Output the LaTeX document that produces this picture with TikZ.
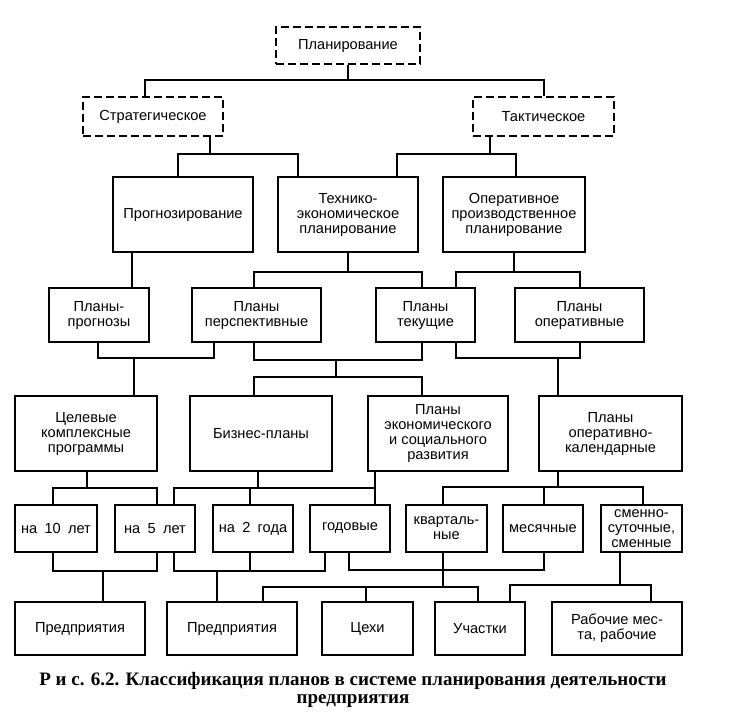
\documentclass[tikz,border=0pt]{standalone}
\usepackage{fontspec}
\setmainfont{Liberation Sans}
\newfontfamily\capfont{Liberation Serif}
\begin{document}
\begin{tikzpicture}[x=1pt,y=-1pt,
  box/.style={draw, line width=1.4pt, rectangle, align=center, inner sep=1pt, font=\fontsize{14.6}{15}\selectfont},
  dbox/.style={box, dash pattern=on 8pt off 4pt},
  link/.style={line width=1.4pt},
  captxt/.style={align=center, font=\capfont\bfseries\fontsize{19}{18}\selectfont},
]
\useasboundingbox (0,0) rectangle (733,716);
\fill[white] (0,0) rectangle (733,716);

% row 0 / 1 (dashed)
\node[dbox, minimum width=144pt, minimum height=37pt] (plan) at (348,45.5) {Планирование};
\node[dbox, minimum width=140pt, minimum height=39pt] (strat) at (153,116.5) {Стратегическое};
\node[dbox, minimum width=141pt, minimum height=39pt] (takt) at (543.5,116.5) {Тактическое};

% row 1b
\node[box, minimum width=140pt, minimum height=75pt] (prog) at (183,214.5) {Прогнозирование};
\node[box, minimum width=140pt, minimum height=75pt] (tech) at (348,214.5) {Технико-\\экономическое\\планирование};
\node[box, minimum width=142pt, minimum height=75pt] (oper) at (514,214.5) {Оперативное\\производственное\\планирование};

% row 2
\node[box, minimum width=100pt, minimum height=54pt] (pp) at (99,315) {Планы-\\прогнозы};
\node[box, minimum width=129pt, minimum height=54pt] (ppersp) at (256.5,315) {Планы\\перспективные};
\node[box, minimum width=99pt, minimum height=54pt] (ptek) at (425.5,315) {Планы\\текущие};
\node[box, minimum width=129pt, minimum height=54pt] (poper) at (579.5,315) {Планы\\оперативные};

% row 3
\node[box, minimum width=142pt, minimum height=75pt] (cel) at (86,433.5) {Целевые\\комплексные\\программы};
\node[box, minimum width=142pt, minimum height=75pt] (biz) at (261,433.5) {Бизнес-планы};
\node[box, minimum width=140pt, minimum height=75pt] (pek) at (438,433.5) {Планы\\экономического\\и социального\\развития};
\node[box, minimum width=143pt, minimum height=75pt] (pok) at (610.5,433.5) {Планы\\оперативно-\\календарные};

% row 4
\node[box, minimum width=82pt, minimum height=47pt] (n10) at (56,528.5) {на\enspace 10\enspace лет};
\node[box, minimum width=80pt, minimum height=47pt] (n5) at (155,528.5) {на\enspace 5\enspace лет};
\node[box, minimum width=80pt, minimum height=47pt] (n2) at (253,528.5) {на\enspace 2\enspace года};
\node[box, minimum width=80pt, minimum height=47pt] (god) at (350,528.5) {годовые};
\node[box, minimum width=81pt, minimum height=47pt] (kv) at (446.5,528.5) {кварталь-\\ные};
\node[box, minimum width=80pt, minimum height=47pt] (mes) at (543,528.5) {месячные};
\node[box, minimum width=81pt, minimum height=47pt] (smen) at (641.5,528.5) {сменно-\\суточные,\\сменные};

% row 5
\node[box, minimum width=130pt, minimum height=53pt] (pr1) at (80,628.5) {Предприятия};
\node[box, minimum width=130pt, minimum height=53pt] (pr2) at (232,628.5) {Предприятия};
\node[box, minimum width=91pt, minimum height=53pt] (cex) at (367.5,628.5) {Цехи};
\node[box, minimum width=90pt, minimum height=53pt] (uch) at (480,628.5) {Участки};
\node[box, minimum width=130pt, minimum height=53pt] (rab) at (617,628.5) {Рабочие мес-\\та, рабочие};

% caption
\node[captxt] (cap) at (353,690) {Р и с. 6.2. Классификация планов в системе планирования деятельности\\предприятия};

% junction coordinates
\coordinate (b0l) at (145,80); \coordinate (b0r) at (544,80);
\coordinate (b1l) at (178,154); \coordinate (b1r) at (298,154); \coordinate (b1s) at (210,154);
\coordinate (b2l) at (397,154); \coordinate (b2r) at (516,154); \coordinate (b2s) at (490,154);
\coordinate (c1) at (132,270);
\coordinate (b3l) at (254,272); \coordinate (b3r) at (422,272);
\coordinate (b4l) at (456,272); \coordinate (b4r) at (580,272);
\coordinate (b5l) at (98,358); \coordinate (b5r) at (214,358); \coordinate (b5d) at (134,358);
\coordinate (b6l) at (254,360); \coordinate (b6r) at (422,360); \coordinate (b6d) at (336,360);
\coordinate (b7l) at (254,377); \coordinate (b7r) at (422,377); \coordinate (b7d) at (336,377);
\coordinate (b8l) at (456,358); \coordinate (b8r) at (580,358); \coordinate (b8d) at (558,358);
\coordinate (b9l) at (53,488); \coordinate (b9r) at (157,488); \coordinate (b9u) at (87,488);
\coordinate (b10l) at (174,488); \coordinate (b10r) at (375,488); \coordinate (b10m) at (250,488); \coordinate (b10u) at (258,488);
\coordinate (b11l) at (443,487); \coordinate (b11r) at (643,487); \coordinate (b11m) at (544,487); \coordinate (b11u) at (558,487);
\coordinate (b12l) at (53,571); \coordinate (b12r) at (157,571); \coordinate (b12d) at (103,571);
\coordinate (b13l) at (174,571); \coordinate (b13r) at (325,571); \coordinate (b13m) at (250,571); \coordinate (b13d) at (217,571);
\coordinate (b14l) at (349,570); \coordinate (b14r) at (544,570); \coordinate (b14m) at (443,570);
\coordinate (b15l) at (263,587); \coordinate (b15r) at (478,587); \coordinate (b15m) at (443,587); \coordinate (b15c) at (366,587);
\coordinate (b16l) at (510,585); \coordinate (b16r) at (651,585); \coordinate (b16u) at (620,585);

% connectors
\draw[link] (plan.south) -- (plan.south |- b0l);
\draw[link] (strat.north -| b0l) -- (b0l) -- (b0r) -- (takt.north -| b0r);

\draw[link] (strat.south -| b1s) -- (b1s);
\draw[link] (prog.north -| b1l) -- (b1l) -- (b1r) -- (tech.north -| b1r);
\draw[link] (takt.south -| b2s) -- (b2s);
\draw[link] (tech.north -| b2l) -- (b2l) -- (b2r) -- (oper.north -| b2r);

\draw[link] (prog.south -| c1) -- (pp.north -| c1);
\draw[link] (tech.south) -- (tech.south |- b3l);
\draw[link] (ppersp.north -| b3l) -- (b3l) -- (b3r) -- (ptek.north -| b3r);
\draw[link] (oper.south) -- (oper.south |- b4l);
\draw[link] (ptek.north -| b4l) -- (b4l) -- (b4r) -- (poper.north -| b4r);

\draw[link] (pp.south -| b5l) -- (b5l) -- (b5r) -- (ppersp.south -| b5r);
\draw[link] (b5d) -- (cel.north -| b5d);
\draw[link] (ppersp.south -| b6l) -- (b6l) -- (b6r) -- (ptek.south -| b6r);
\draw[link] (b6d) -- (b7d);
\draw[link] (biz.north -| b7l) -- (b7l) -- (b7r) -- (pek.north -| b7r);
\draw[link] (ptek.south -| b8l) -- (b8l) -- (b8r) -- (poper.south -| b8r);
\draw[link] (b8d) -- (pok.north -| b8d);

\draw[link] (cel.south -| b9u) -- (b9u);
\draw[link] (n10.north -| b9l) -- (b9l) -- (b9r) -- (n5.north -| b9r);
\draw[link] (biz.south -| b10u) -- (b10u);
\draw[link] (n5.north -| b10l) -- (b10l) -- (b10r);
\draw[link] (b10m) -- (n2.north -| b10m);
\draw[link] (pek.south -| b10r) -- (god.north -| b10r);
\draw[link] (pok.south -| b11u) -- (b11u);
\draw[link] (kv.north -| b11l) -- (b11l) -- (b11r) -- (smen.north -| b11r);
\draw[link] (b11m) -- (mes.north -| b11m);

\draw[link] (n10.south -| b12l) -- (b12l) -- (b12r) -- (n5.south -| b12r);
\draw[link] (b12d) -- (pr1.north -| b12d);
\draw[link] (n5.south -| b13l) -- (b13l) -- (b13r) -- (god.south -| b13r);
\draw[link] (n2.south -| b13m) -- (b13m);
\draw[link] (b13d) -- (pr2.north -| b13d);
\draw[link] (god.south -| b14l) -- (b14l) -- (b14r) -- (mes.south -| b14r);
\draw[link] (kv.south -| b14m) -- (b15m);
\draw[link] (pr2.north -| b15l) -- (b15l) -- (b15r) -- (uch.north -| b15r);
\draw[link] (b15c) -- (cex.north -| b15c);
\draw[link] (smen.south -| b16u) -- (b16u);
\draw[link] (uch.north -| b16l) -- (b16l) -- (b16r) -- (rab.north -| b16r);
\end{tikzpicture}
\end{document}
